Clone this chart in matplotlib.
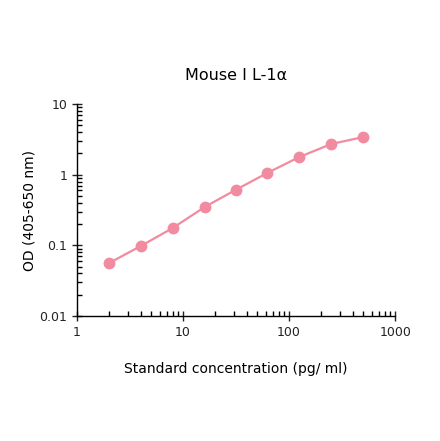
import matplotlib
matplotlib.use('Agg')
import matplotlib.pyplot as plt
from matplotlib.ticker import LogLocator, FixedLocator, FixedFormatter

# standard curve values
conc = [2, 4, 8, 16, 31.25, 62.5, 125, 250, 500]
od = [0.056, 0.098, 0.176, 0.349, 0.608, 1.06, 1.78, 2.72, 3.41]
xticks = [1, 10, 100, 1000]
xlabels = ['1', '10', '100', '1000']
yticks = [0.01, 0.1, 1, 10]
ylabels = ['0.01', '0.1', '1', '10']

fig = plt.figure(figsize=(4.4, 4.41), dpi=100)
ax = fig.add_axes([0.175, 0.2834, 0.723, 0.4807])
ax.plot(conc, od, '-o', color='#f28b9f', lw=1.6, ms=8.5, markeredgewidth=0)
ax.set_xscale('log')
ax.set_yscale('log')
ax.set_xlim(1, 1000)
ax.set_ylim(0.01, 10)

ax.xaxis.set_major_locator(FixedLocator(xticks))
ax.xaxis.set_major_formatter(FixedFormatter(xlabels))
ax.yaxis.set_major_locator(FixedLocator(yticks))
ax.yaxis.set_major_formatter(FixedFormatter(ylabels))
ax.xaxis.set_minor_locator(LogLocator(base=10, subs=range(2, 10)))
ax.yaxis.set_minor_locator(LogLocator(base=10, subs=range(2, 10)))
ax.xaxis.set_minor_formatter(plt.NullFormatter())
ax.yaxis.set_minor_formatter(plt.NullFormatter())

ax.tick_params(which='major', direction='inout', length=7, width=1, labelsize=9, colors='#222222')
ax.tick_params(which='minor', direction='in', length=3.5, width=1)
for s in ['top', 'right']:
    ax.spines[s].set_visible(False)
for s in ['left', 'bottom']:
    ax.spines[s].set_linewidth(1)

ax.set_title('Mouse I L-1α', fontsize=11.5, pad=17)
ax.set_xlabel('Standard concentration (pg/ ml)', fontsize=10, labelpad=17)
ax.set_ylabel('OD (405-650 nm)', fontsize=10, labelpad=2)

plt.savefig('out.png', dpi=100)
